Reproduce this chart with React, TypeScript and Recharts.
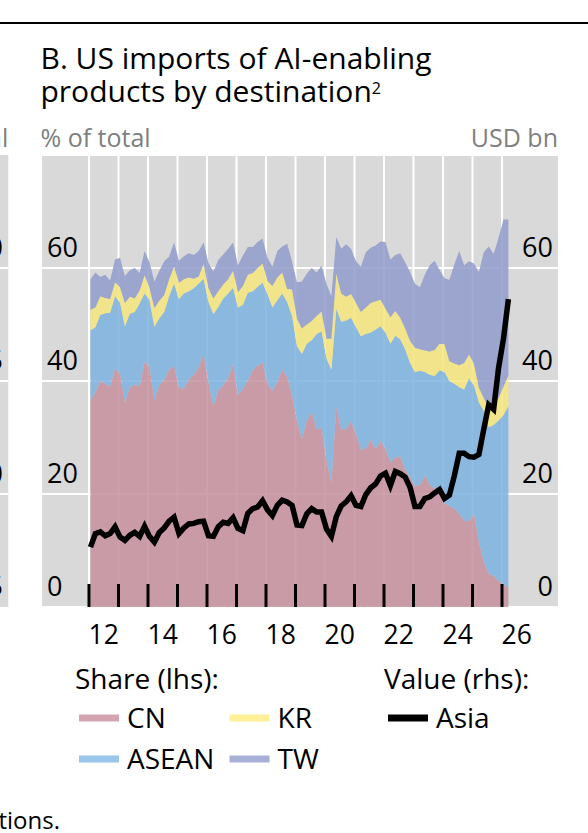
import { Area, CartesianGrid, ComposedChart, Line, XAxis, YAxis } from "recharts";

// shares of US AI-enabling imports, % of total (every two months from early 2012)
const cn = [
  36.6, 38, 40, 39.5, 39, 42.2, 41.4, 36.2, 38.9, 39.4, 39, 43.4, 42.6, 36.6, 39.2, 40.2, 42, 42.6,
  38.9, 38.6, 40.3, 41, 42.5, 44.8, 39.8, 35.5, 38.3, 39.3, 40.5, 43.1, 37.5, 38.6, 40.1, 41.9, 42.7,
  43.3, 39.5, 38.2, 39.8, 42, 40.7, 37.5, 33, 29.8, 33, 34.5, 31.4, 31.8, 26, 22, 35.5, 31.3, 31.5,
  32.9, 30.7, 27.8, 28, 29.6, 27.9, 29.4, 28, 25.6, 26.4, 26.7, 24.3, 23, 21.4, 21.6, 23.3, 21.6, 21,
  20.1, 18.3, 17.9, 17.4, 16.5, 15.2, 15.2, 16.5, 11.5, 8, 5.9, 5.5, 4.6, 4, 3.5
];
const asean = [
  12.4, 11.5, 11.7, 12.5, 13.1, 12.8, 12.5, 13.5, 13, 12.8, 14.7, 12.1, 11.8, 13, 11.9, 12, 13, 14.6,
  15.6, 16.9, 15.6, 15.4, 14.7, 13.3, 14.2, 16.3, 14.8, 15.3, 15, 13.4, 15.5, 14.9, 15.5, 14, 14,
  14.1, 15.9, 14.8, 14.5, 13.5, 13.3, 14, 13.2, 15, 13.6, 12.7, 16.9, 17, 18, 20, 17.3, 19.2, 19.2,
  18.3, 18.8, 20.1, 20.3, 19, 21.2, 20.3, 20.6, 21, 21.6, 20.7, 21.3, 20.2, 20.2, 20.2, 18.3, 19.5,
  19.9, 21.8, 23.3, 22.1, 22.1, 22.4, 23.3, 25.3, 22.7, 24.7, 26.7, 25.9, 26.7, 28.4, 30, 32
];
const kr = [
  3.6, 3.5, 3.3, 2.7, 2.4, 2.5, 2.7, 4.1, 3, 2.4, 2.3, 3.2, 2.1, 3.3, 3.1, 3, 3, 3, 2.9, 2.5, 2.4,
  1.7, 1.3, 2.6, 2.4, 2.8, 2.8, 2.5, 2.5, 3, 2.7, 3.3, 3.2, 3.2, 3.3, 3.4, 2.3, 3.8, 4, 3.7, 2.3,
  4.7, 4.8, 4.5, 3.4, 3.4, 3.2, 3.5, 3.5, 5.5, 6.2, 5, 4.2, 4.2, 4.3, 4.3, 4.7, 5.2, 5, 4.7, 4.2,
  4.7, 4.4, 3.8, 3.7, 3.9, 4.3, 3.8, 3.8, 4.1, 4.6, 4.7, 4.9, 3.5, 3.6, 3.9, 4.7, 4.2, 3.8, 2.6,
  2.3, 3.4, 3.4, 4, 5, 5.5
];
const tw = [
  5.4, 6.2, 3.4, 4.1, 3.3, 4, 5.2, 4.8, 4.7, 5.4, 3.1, 4.3, 4.5, 4.7, 5.3, 6, 4, 4.3, 3.9, 4.1, 4.3,
  4.2, 4.5, 3.8, 4.5, 4.8, 5.5, 5.3, 5.4, 5, 4.8, 5.4, 4.9, 4.6, 4.6, 4.4, 4.1, 3.4, 4.7, 4.6, 8,
  5, 6.5, 8.3, 9, 9.4, 7.7, 8.1, 9.7, 7.5, 6.5, 7.9, 9.3, 8, 7.4, 8, 9.8, 9.8, 9.9, 10.3, 11.8,
  10.2, 9.9, 11.4, 11.7, 12.2, 11.3, 11, 13.4, 15.3, 15.8, 13.1, 11.7, 14.4, 17.5, 20.2, 17.3, 16.5,
  17.8, 20.5, 25.8, 28.6, 26.9, 28.3, 29.6, 27.6
];
// value of imports from Asia, USD bn
const asia = [
  10.6, 13, 13.3, 12.6, 13, 14.2, 12.4, 11.8, 12.7, 13.2, 12.5, 14.3, 12.5, 11.5, 13.2, 14, 15.2,
  15.9, 13, 14, 14.7, 14.8, 15.1, 15.2, 12.6, 12.5, 14.2, 15, 14.8, 15.8, 13.9, 13.5, 16.6, 17.4,
  17.7, 18.8, 17.2, 16.2, 18, 18.9, 18.6, 18, 14.5, 14.4, 16.5, 17.4, 16.8, 16.8, 13.8, 12.5, 16,
  17.9, 18.6, 19.7, 18, 17.8, 19.9, 21.1, 21.8, 23.2, 23.7, 21.5, 24, 23.6, 23, 21.2, 17.8, 17.8,
  19.2, 19.5, 20.2, 20.8, 19.2, 19.8, 23.2, 27.2, 27.2, 26.6, 26.5, 27, 31.5, 35.8, 35, 42.3, 47.5,
  54.5
];
const yearTicks = [2012, 2013, 2014, 2015, 2016, 2017, 2018, 2019, 2020, 2021, 2022, 2023, 2024, 2025, 2026];
const yearLabels = ["12", "", "14", "", "16", "", "18", "", "20", "", "22", "", "24", "", "26"];
const shareTicks = [0, 20, 40, 60];
const valueTicks = [0, 20, 40, 60];

const rows = cn.map((v, i) => ({
  date: 2012.05 + i / 6,
  cn: v,
  asean: asean[i],
  kr: kr[i],
  tw: tw[i],
  asia: asia[i]
}));

const FONT = "'Open Sans', 'Noto Sans', sans-serif";
const W = 588;
const H = 833;
const PLOT = { left: 41, right: 559, top: 155, bottom: 607 };
const X_DOMAIN: [number, number] = [2010.373, 2027.932];
const HALF_YEAR = (PLOT.right - PLOT.left) / (X_DOMAIN[1] - X_DOMAIN[0]) / 2;

const YearTick = ({ x, index }: any) => (
  <g>
    <line x1={x} x2={x} y1={PLOT.bottom - 23} y2={PLOT.bottom} stroke="#000" strokeWidth={3} />
    <text x={x + HALF_YEAR} y={644} textAnchor="middle" fontSize={26.5} fontFamily={FONT} fill="#000">
      {yearLabels[index]}
    </text>
  </g>
);

const ShareTick = ({ y, payload }: any) => (
  <text x={PLOT.left + 6} y={y - 11} fontSize={27} fontFamily={FONT} fill="#000">
    {payload.value}
  </text>
);

const ValueTick = ({ y, payload }: any) => (
  <text x={PLOT.right - 6} y={y - 11} textAnchor="end" fontSize={27} fontFamily={FONT} fill="#000">
    {payload.value}
  </text>
);

const legendItems = [
  { label: "CN", color: "#d4a5b0", x: 79, y: 718 },
  { label: "KR", color: "#fff099", x: 229.5, y: 718 },
  { label: "ASEAN", color: "#99c6ea", x: 79, y: 759 },
  { label: "TW", color: "#a8b0d8", x: 229.5, y: 759 },
  { label: "Asia", color: "#000", x: 388, y: 718 }
];

export default function App() {
  return (
    <div style={{ position: "absolute", left: 0, top: 0, width: W, height: H, background: "#fff" }}>
      <ComposedChart
        width={W}
        height={H}
        data={rows}
        margin={{ top: PLOT.top, right: W - PLOT.right - 1, bottom: H - PLOT.bottom - 1, left: PLOT.left - 1 }}
      >
        <CartesianGrid fill="#d9d9d9" stroke="#fff" strokeWidth={2} />
        <YAxis domain={[0, 80]} ticks={shareTicks} width={1} axisLine={false} tickLine={false} tick={<ShareTick />} />
        <YAxis
          yAxisId="value"
          orientation="right"
          domain={[0, 80]}
          ticks={valueTicks}
          width={1}
          axisLine={false}
          tickLine={false}
          tick={<ValueTick />}
        />
        <Area dataKey="cn" stackId="s" type="linear" fill="#c68f9d" fillOpacity={0.85} stroke="none" isAnimationActive={false} />
        <Area dataKey="asean" stackId="s" type="linear" fill="#7db2de" fillOpacity={0.85} stroke="none" isAnimationActive={false} />
        <Area dataKey="kr" stackId="s" type="linear" fill="#f6e57c" fillOpacity={0.85} stroke="none" isAnimationActive={false} />
        <Area dataKey="tw" stackId="s" type="linear" fill="#8f9bca" fillOpacity={0.85} stroke="none" isAnimationActive={false} />
        <Line
          yAxisId="value"
          dataKey="asia"
          type="linear"
          stroke="#000"
          strokeWidth={5.5}
          dot={false}
          isAnimationActive={false}
        />
        <XAxis
          dataKey="date"
          type="number"
          domain={X_DOMAIN}
          ticks={yearTicks}
          interval={0}
          height={1}
          axisLine={false}
          tickLine={false}
          tick={<YearTick />}
        />
      </ComposedChart>

      <svg
        width={W}
        height={H}
        style={{ position: "absolute", left: 0, top: 0, pointerEvents: "none" }}
        fontFamily={FONT}
      >
        <line x1={0} x2={W} y1={23} y2={23} stroke="#000" strokeWidth={2} />

        {/* edge of the neighbouring panel */}
        <rect x={0} y={PLOT.top} width={8.3} height={PLOT.bottom - PLOT.top} fill="#d9d9d9" />
        {[268, 381, 494].map((y) => (
          <line key={y} x1={0} x2={8.3} y1={y} y2={y} stroke="#fff" strokeWidth={2} />
        ))}
        <text x={8.3} y={146.5} textAnchor="end" fontSize={25} fill="#7f7f7f">% of total</text>
        {["60", "45", "30", "15"].map((t, i) => (
          <text key={t} x={3} y={257 + i * 113} textAnchor="end" fontSize={27} fill="#000">{t}</text>
        ))}

        <text x={40.5} y={69} fontSize={30} fill="#000">B. US imports of AI-enabling</text>
        <text x={40.5} y={102} fontSize={30} fill="#000">
          products by destination<tspan fontSize={16} dy={-8}>2</tspan>
        </text>
        <text x={40.5} y={146.5} fontSize={25} fill="#7f7f7f">% of total</text>
        <text x={558} y={146.5} textAnchor="end" fontSize={25} fill="#7f7f7f">USD bn</text>

        <text x={75} y={689} fontSize={28} fill="#000">Share (lhs):</text>
        <text x={384} y={689} fontSize={28} fill="#000">Value (rhs):</text>
        {legendItems.map((it) => (
          <g key={it.label}>
            <rect x={it.x} y={it.y - 3.5} width={40} height={7} fill={it.color} />
            <text x={it.x + 48} y={it.y + 10} fontSize={28} fill="#000">{it.label}</text>
          </g>
        ))}

        <text x={60} y={829} textAnchor="end" fontSize={24} fill="#000">tions.</text>
      </svg>
    </div>
  );
}
